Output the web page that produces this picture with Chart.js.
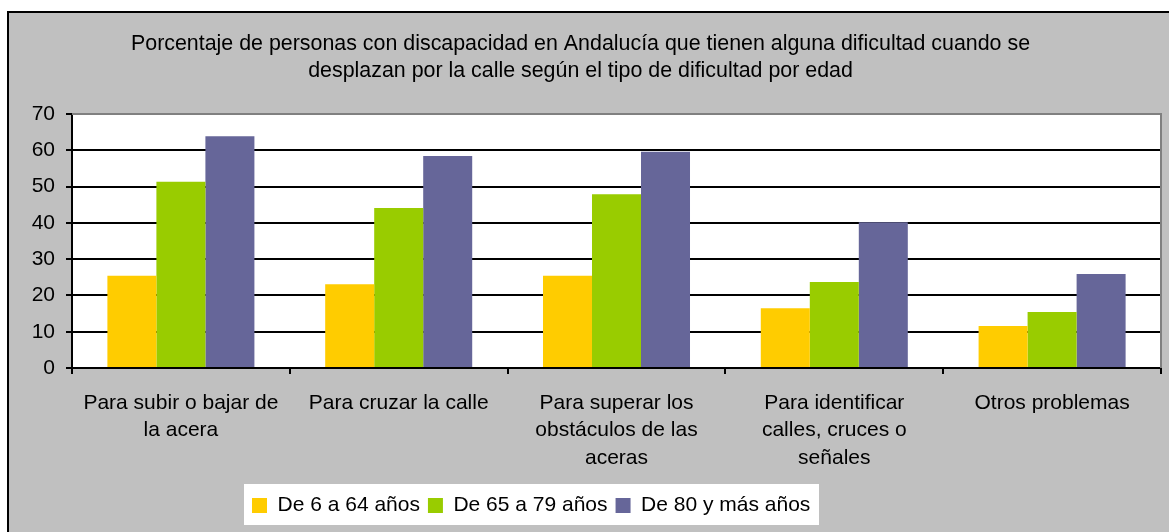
<!DOCTYPE html>
<html><head><meta charset="utf-8">
<script src="https://cdn.jsdelivr.net/npm/chart.js@4/dist/chart.umd.min.js"></script>
<style>html,body{margin:0;padding:0;background:#fff;overflow:hidden}#wrap{width:1169px;height:532px}</style>
</head><body><div id="wrap"><canvas id="c" width="1169" height="532"></canvas></div>
<script>
const titleLines = ["Porcentaje de personas con discapacidad en Andalucía que tienen alguna dificultad cuando se","desplazan por la calle según el tipo de dificultad por edad"];
const categories = [["Para subir o bajar de","la acera"],"Para cruzar la calle",["Para superar los","obstáculos de las","aceras"],["Para identificar","calles, cruces o","señales"],"Otros problemas"];
const seriesNames = ["De 6 a 64 años","De 65 a 79 años","De 80 y más años"];
const age6to64 = [25.4,23.1,25.4,16.5,11.6];
const age65to79 = [51.3,44.1,47.9,23.7,15.4];
const age80plus = [63.9,58.4,59.6,40.2,25.9];
const yTicks = [0,10,20,30,40,50,60,70];

const FONT = "'Liberation Sans', Arial, sans-serif";
const FS = 21;
const TFS = 21.4;
Chart.defaults.font.family = FONT;
Chart.defaults.color = '#000';

const frame = {
  id:'frame',
  beforeDraw(chart){
    const ctx = chart.ctx, a = chart.chartArea, W = chart.width, H = chart.height;
    ctx.save();
    ctx.fillStyle = '#fff'; ctx.fillRect(0,0,W,H);
    ctx.fillStyle = '#C0C0C0'; ctx.fillRect(8,12,W-8,H-12);
    ctx.fillStyle = '#000'; ctx.fillRect(7,11,2,H-11); ctx.fillRect(7,11,W-7,2);
    ctx.fillStyle = '#fff'; ctx.fillRect(a.left,a.top,a.right-a.left,a.bottom-a.top);
    ctx.fillRect(244,484,575,41);
    ctx.restore();
    chart.legend.left = 244;
    chart.legend.top = 487;
  },
  afterDatasetsDraw(chart){
    const ctx = chart.ctx, a = chart.chartArea;
    ctx.save(); ctx.strokeStyle = '#808080'; ctx.lineWidth = 2;
    ctx.beginPath(); ctx.moveTo(a.left, a.top); ctx.lineTo(a.right, a.top); ctx.lineTo(a.right, a.bottom); ctx.stroke();
    ctx.restore();
  }
};

new Chart(document.getElementById('c'), {
  type:'bar',
  data:{
    labels: categories,
    datasets:[
      {label:seriesNames[0], data:age6to64, backgroundColor:'#FFCC00'},
      {label:seriesNames[1], data:age65to79, backgroundColor:'#99CC00'},
      {label:seriesNames[2], data:age80plus, backgroundColor:'#666699'}
    ]
  },
  options:{
    responsive:false, animation:false, devicePixelRatio:1,
    datasets:{bar:{categoryPercentage:0.675, barPercentage:1, borderWidth:0}},
    layout:{padding:{left:0,right:8,top:0,bottom:6}},
    plugins:{
      tooltip:{enabled:false},
      title:{display:true, text:titleLines, color:'#000', font:{size:TFS, weight:'normal', lineHeight:27/TFS}, padding:{top:31,bottom:29}},
      legend:{position:'bottom', align:'start', labels:{boxWidth:15, boxHeight:15, padding:8, color:'#000', font:{size:FS}}}
    },
    scales:{
      x:{
        grid:{offset:true, drawOnChartArea:false, drawTicks:true, tickLength:6, color:'#000', lineWidth:2},
        border:{display:true, color:'#000', width:2},
        ticks:{color:'#000', font:{size:FS, lineHeight:27.5/FS}, padding:15, maxRotation:0, autoSkip:false},
        afterFit(s){ s.height = 119; }
      },
      y:{
        min:0, max:70,
        afterBuildTicks(s){ s.ticks = yTicks.map(v=>({value:v})); },
        ticks:{color:'#000', font:{size:FS}, padding:11},
        grid:{color:c=> (c.tick && c.tick.value===70) ? 'rgba(0,0,0,0)' : '#000', tickColor:'#000', lineWidth:2, tickLength:6, drawTicks:true},
        border:{color:'#000', width:2},
        afterFit(s){ s.width = 72; }
      }
    }
  },
  plugins:[frame]
});
</script>
</body></html>
